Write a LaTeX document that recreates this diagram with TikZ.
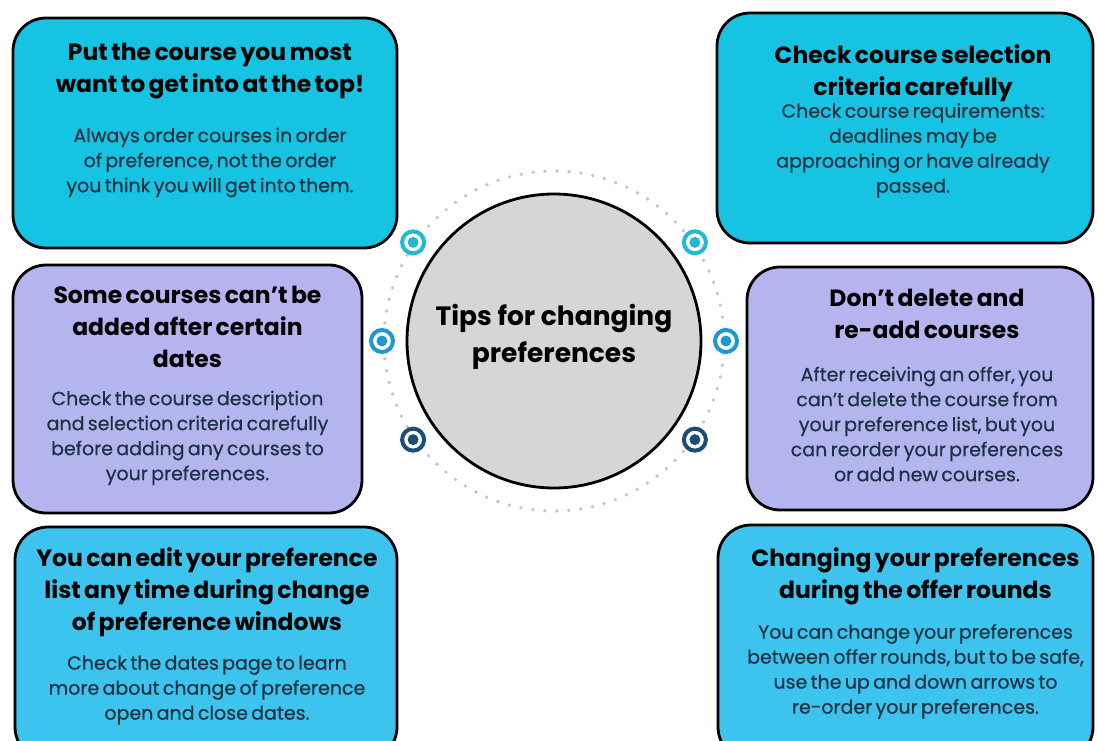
\documentclass[tikz,border=0pt]{standalone}
\usepackage{fontspec}
\setmainfont{Poppins}
\newfontface\tipface{Poppins}[FakeBold=0.5]
\usetikzlibrary{calc,positioning}

\definecolor{tipcyan}{HTML}{17C3E2}
\definecolor{tipsky}{HTML}{3CC3EE}
\definecolor{tiplilac}{HTML}{B4B5EE}
\definecolor{tipink}{HTML}{1D3243}
\definecolor{hubgray}{HTML}{D6D6D8}
\definecolor{dotcyan}{HTML}{22B8D6}
\definecolor{dotblue}{HTML}{1F98D2}
\definecolor{dotnavy}{HTML}{1C4D76}

\newcommand{\tiphead}{\fontsize{23.5}{32}\selectfont\bf}
\newcommand{\tipbody}{\fontsize{19}{25}\tipface\color{tipink}}

\begin{document}
\begin{tikzpicture}[x=1pt,y=1pt,
  tipbox/.style={rectangle,draw=black,line width=2.8pt,rounded corners=33pt,inner sep=0pt},
  tiptext/.style={inner sep=0pt,align=center,text width=390pt},
  hub/.style={circle,draw=black,line width=2.8pt,fill=hubgray,minimum size=294pt,inner sep=0pt},
  marker/.style={circle,draw=#1,line width=4pt,fill=white,minimum size=22pt,inner sep=0pt,
                 path picture={\fill[#1] (path picture bounding box.center) circle (5.5pt);}}]

  \useasboundingbox (0,0) rectangle (1097,740);
  \clip (0,0) rectangle (1097,740);

  % centre hub with dotted ring
  \node[hub] (HUB) at (554,399) {};
  \draw[gray!45,line width=3.8pt,line cap=round,dash pattern=on 0pt off 12pt]
    (HUB.center) circle (170pt);
  \node[font=\fontsize{26.5}{37}\selectfont\bf,align=center,yshift=4pt] (HUBTEXT) at (HUB.center)
    {Tips for changing\\preferences};

  \foreach \ang/\col in {145/dotcyan,35/dotcyan,180/dotblue,0/dotblue,215/dotnavy,-35/dotnavy}
    \node[marker=\col] at ($(HUB.center)+(\ang:172pt)$) {};

  % the six tip cards
  \node[tipbox,fill=tipcyan,minimum width=384pt,minimum height=230pt] (TOPFIRST) at (205,607) {};
  \node[tiptext,below=26pt of TOPFIRST.north,xshift=5pt] (TOPFIRSTTXT)
    {{\tiphead Put the course you most\\want to get into at the top!\par}\vspace{25pt}
     {\tipbody Always order courses in order\\of preference, not the order\\you think you will get into them.\par}};

  \node[tipbox,fill=tipcyan,minimum width=376pt,minimum height=230pt] (CRITERIA) at (905,612) {};
  \node[tiptext,below=33pt of CRITERIA.north,xshift=8pt] (CRITERIATXT)
    {{\tiphead Check course selection\\criteria carefully\par}\vspace{-3pt}
     {\tipbody Check course requirements:\\deadlines may be\\approaching or have already\\passed.\par}};

  \node[tipbox,fill=tiplilac,minimum width=349pt,minimum height=248pt] (DATES) at (187.5,351) {};
  \node[tiptext,below=22pt of DATES.north] (DATESTXT)
    {{\tiphead Some courses can't be\\added after certain\\dates\par}\vspace{13pt}
     {\tipbody Check the course description\\and selection criteria carefully\\before adding any courses to\\your preferences.\par}};

  \node[tipbox,fill=tiplilac,minimum width=346pt,minimum height=243pt] (READD) at (920,351.5) {};
  \node[tiptext,below=23pt of READD.north,xshift=7pt] (READDTXT)
    {{\tiphead Don't delete and\\re-add courses\par}\vspace{18pt}
     {\tipbody After receiving an offer, you\\can’t delete the course from\\your preference list, but you\\can reorder your preferences\\or add new courses.\par}};

  \node[tipbox,fill=tipsky,minimum width=382pt,minimum height=233pt] (WINDOWS) at (206,96.5) {};
  \node[tiptext,below=22pt of WINDOWS.north,xshift=1pt] (WINDOWSTXT)
    {{\tiphead You can edit your preference\\list any time during change\\of preference windows\par}\vspace{14pt}
     {\tipbody Check the dates page to learn\\more about change of preference\\open and close dates.\par}};

  \node[tipbox,fill=tipsky,minimum width=375pt,minimum height=235pt] (ROUNDS) at (905.5,97.5) {};
  \node[tiptext,below=24pt of ROUNDS.north,xshift=10pt] (ROUNDSTXT)
    {{\tiphead Changing your preferences\\during the offer rounds\par}\vspace{15pt}
     {\tipbody You can change your preferences\\between offer rounds, but to be safe,\\use the up and down arrows to\\re-order your preferences.\par}};

\end{tikzpicture}
\end{document}
